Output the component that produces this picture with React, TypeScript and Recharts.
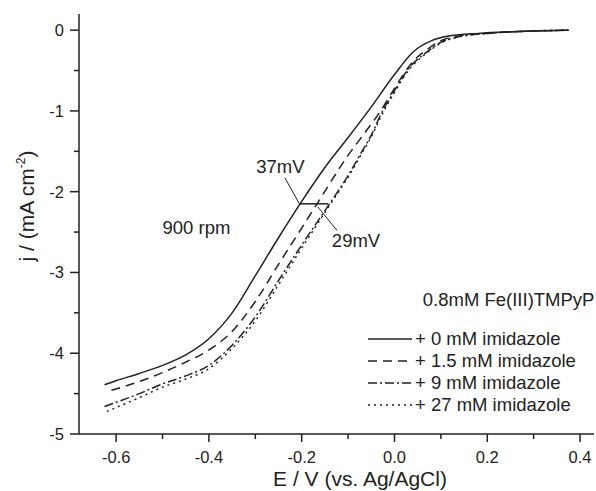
import React from 'react';
import {
  LineChart, Line, XAxis, YAxis, ReferenceLine, ReferenceDot,
} from 'recharts';

// polarisation curves, E in V vs Ag/AgCl, j in mA cm^-2
const E0 = [-0.625, -0.6, -0.55, -0.5, -0.45, -0.4, -0.35, -0.3, -0.25, -0.2, -0.15, -0.1, -0.05, 0.0, 0.04, 0.08, 0.12, 0.18, 0.25, 0.3, 0.375];
const J0 = [-4.39, -4.34, -4.25, -4.15, -4.02, -3.82, -3.5, -3.04, -2.57, -2.12, -1.7, -1.33, -0.95, -0.55, -0.27, -0.13, -0.07, -0.04, -0.02, -0.01, 0.0];

const E15 = [-0.61, -0.55, -0.5, -0.45, -0.4, -0.35, -0.3, -0.25, -0.2, -0.167, -0.1, -0.06, -0.03, 0.0, 0.03, 0.05, 0.07, 0.1, 0.14, 0.2, 0.3, 0.375];
const J15 = [-4.46, -4.35, -4.24, -4.11, -3.96, -3.73, -3.36, -2.9, -2.45, -2.15, -1.55, -1.24, -1.0, -0.72, -0.46, -0.33, -0.24, -0.13, -0.07, -0.04, -0.01, 0.0];

const E9 = [-0.625, -0.55, -0.5, -0.45, -0.4, -0.35, -0.3, -0.25, -0.2, -0.14, -0.1, -0.07, -0.05, -0.03, 0.0, 0.03, 0.07, 0.1, 0.14, 0.2, 0.3, 0.375];
const J9 = [-4.66, -4.5, -4.38, -4.28, -4.15, -3.9, -3.55, -3.1, -2.66, -2.15, -1.8, -1.5, -1.3, -1.05, -0.75, -0.48, -0.27, -0.15, -0.08, -0.04, -0.01, 0.0];

const E27 = [-0.62, -0.55, -0.5, -0.45, -0.4, -0.35, -0.3, -0.25, -0.2, -0.14, -0.1, -0.07, -0.05, -0.03, 0.0, 0.03, 0.07, 0.1, 0.14, 0.2, 0.3, 0.375];
const J27 = [-4.72, -4.55, -4.42, -4.32, -4.19, -3.94, -3.6, -3.15, -2.7, -2.17, -1.82, -1.52, -1.32, -1.08, -0.77, -0.5, -0.28, -0.16, -0.08, -0.04, -0.01, 0.0];

const X_TICKS = [-0.6, -0.5, -0.4, -0.3, -0.2, -0.1, 0.0, 0.1, 0.2, 0.3, 0.4];
const X_MAJOR = [-0.6, -0.4, -0.2, 0.0, 0.2, 0.4];
const Y_TICKS = [0, -0.5, -1, -1.5, -2, -2.5, -3, -3.5, -4, -4.5, -5];
const Y_MAJOR = [0, -1, -2, -3, -4, -5];

const FONT = '"Liberation Sans", Arial, sans-serif';
const INK = '#222';

const toPoints = (xs: number[], ys: number[]) => xs.map((x, i) => ({ x, y: ys[i] }));

const SERIES = [
  { name: '+ 0 mM imidazole', data: toPoints(E0, J0), dash: undefined },
  { name: '+ 1.5 mM imidazole', data: toPoints(E15, J15), dash: '9 6' },
  { name: '+ 9 mM imidazole', data: toPoints(E9, J9), dash: '9 3 2 3' },
  { name: '+ 27 mM imidazole', data: toPoints(E27, J27), dash: '2 4' },
];

const isMajor = (list: number[], v: number) => list.some(m => Math.abs(m - v) < 1e-6);

function XTick(props: any) {
  const { x, y, payload } = props;
  const major = isMajor(X_MAJOR, payload.value);
  return (
    <g>
      <line x1={x} x2={x} y1={y} y2={y + (major ? 8 : 5)} stroke={INK} strokeWidth={1.5} />
      {major && (
        <text x={x} y={y + 29} textAnchor="middle" fontSize={16.5} fontFamily={FONT} fill={INK}>
          {payload.value.toFixed(1)}
        </text>
      )}
    </g>
  );
}

function YTick(props: any) {
  const { x, y, payload } = props;
  const major = isMajor(Y_MAJOR, payload.value);
  return (
    <g>
      <line x1={x} x2={x - (major ? 9 : 5)} y1={y} y2={y} stroke={INK} strokeWidth={1.5} />
      {major && (
        <text x={x - 15} y={y + 6} textAnchor="end" fontSize={16.5} fontFamily={FONT} fill={INK}>
          {payload.value}
        </text>
      )}
    </g>
  );
}

const textShape = (label: string, anchor: string = 'start') => (p: any) => (
  <text x={p.cx} y={p.cy} textAnchor={anchor} fontSize={18.5} fontFamily={FONT} fill={INK}>
    {label}
  </text>
);

function LegendBox() {
  return (
    <div style={{ position: 'absolute', left: 366, top: 328, fontFamily: FONT, fontSize: 18.5, color: INK, lineHeight: '22px' }}>
      {SERIES.map(s => (
        <div key={s.name} style={{ display: 'flex', alignItems: 'center', height: 22, whiteSpace: 'nowrap' }}>
          <svg width={48} height={10} style={{ marginRight: 1 }}>
            <line x1={2} x2={46} y1={5} y2={5} stroke={INK} strokeWidth={1.5} strokeDasharray={s.dash} />
          </svg>
          <span>{s.name}</span>
        </div>
      ))}
    </div>
  );
}

export default function App() {
  return (
    <div style={{ position: 'absolute', left: 0, top: 0, width: 596, height: 491, background: '#fff' }}>
      <LineChart width={596} height={491} margin={{ top: 14, right: 2, left: 0, bottom: 0 }}>
        <XAxis
          type="number"
          dataKey="x"
          domain={[-0.68, 0.43]}
          allowDataOverflow
          ticks={X_TICKS}
          tick={<XTick />}
          tickLine={false}
          tickSize={0}
          tickMargin={0}
          height={57}
          axisLine={{ stroke: INK, strokeWidth: 1.5 }}
          interval={0}
        />
        <YAxis
          type="number"
          dataKey="y"
          domain={[-5, 0.2]}
          allowDataOverflow
          ticks={Y_TICKS}
          tick={<YTick />}
          tickLine={false}
          tickSize={0}
          tickMargin={0}
          width={79}
          axisLine={{ stroke: INK, strokeWidth: 1.5 }}
          interval={0}
        />
        {SERIES.map(s => (
          <Line
            key={s.name}
            name={s.name}
            data={s.data}
            dataKey="y"
            type="monotone"
            stroke={INK}
            strokeWidth={1.5}
            strokeDasharray={s.dash}
            dot={false}
            activeDot={false}
            isAnimationActive={false}
          />
        ))}
        {/* potential shift annotation */}
        <ReferenceLine segment={[{ x: -0.204, y: -2.15 }, { x: -0.143, y: -2.15 }]} stroke={INK} strokeWidth={1.5} />
        <ReferenceLine segment={[{ x: -0.236, y: -1.83 }, { x: -0.204, y: -2.16 }]} stroke={INK} strokeWidth={1} />
        <ReferenceLine segment={[{ x: -0.165, y: -2.19 }, { x: -0.124, y: -2.48 }]} stroke={INK} strokeWidth={1} />
        <ReferenceDot x={-0.298} y={-1.77} r={0} shape={textShape('37mV')} ifOverflow="visible" />
        <ReferenceDot x={-0.135} y={-2.68} r={0} shape={textShape('29mV')} ifOverflow="visible" />
        <ReferenceDot x={-0.5} y={-2.52} r={0} shape={textShape('900 rpm')} ifOverflow="visible" />
        <ReferenceDot x={0.061} y={-3.42} r={0} shape={textShape('0.8mM Fe(III)TMPyP')} ifOverflow="visible" />
      </LineChart>
      <LegendBox />
      <div style={{ position: 'absolute', left: 360, top: 467, transform: 'translateX(-50%)', whiteSpace: 'nowrap', fontFamily: FONT, fontSize: 21, color: INK, lineHeight: '24px' }}>
        E / V (vs. Ag/AgCl)
      </div>
      <div style={{ position: 'absolute', left: 27, top: 206, transform: 'translate(-50%, -50%) rotate(-90deg)', whiteSpace: 'nowrap', fontFamily: FONT, fontSize: 21, color: INK, lineHeight: '24px' }}>
        j / (mA cm<sup style={{ fontSize: 12, verticalAlign: 'top', lineHeight: '12px' }}>-2</sup>)
      </div>
    </div>
  );
}
